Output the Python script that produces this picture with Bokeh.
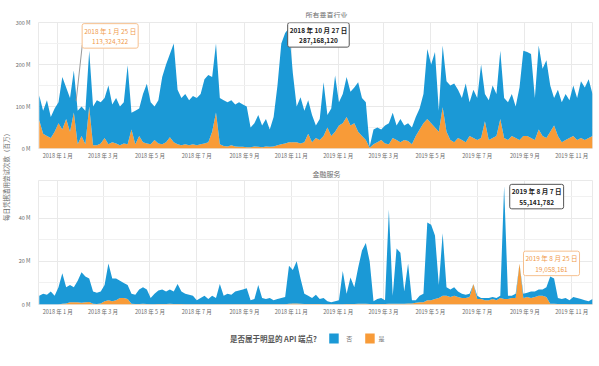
import math
import pandas as pd
from bokeh.plotting import figure
from bokeh.layouts import row, column
from bokeh.models import (ColumnDataSource, Range1d, FixedTicker, MonthsTicker,
                          CustomJSTickFormatter, Label)
from bokeh.core.properties import value
from bokeh.embed import file_html
from bokeh.resources import INLINE

# ---------------- data (millions per day, sampled every 5 days) ----------------
start_date = "2017-12-08"
n_points = 145

all_yes = [67, 35, 30, 25, 40, 60, 45, 70, 40, 86,
           10, 30, 10, 100, 8, 8, 12, 25, 10, 15,
           12, 8, 12, 10, 45, 10, 30, 15, 12, 10,
           20, 12, 10, 15, 27, 15, 10, 8, 10, 8,
           10, 8, 10, 12, 15, 40, 86, 10, 6, 5,
           8, 5, 4, 4, 3, 3, 5, 4, 3, 5,
           4, 5, 8, 10, 12, 15, 15, 15, 12, 15,
           35, 15, 25, 20, 30, 50, 30, 40, 55, 60,
           75, 55, 60, 40, 30, 20, 2, 10, 15, 20,
           12, 10, 25, 20, 15, 20, 18, 10, 30, 45,
           60, 70, 60, 50, 40, 98, 40, 20, 15, 25,
           20, 15, 30, 25, 20, 25, 65, 20, 25, 30,
           70, 25, 20, 30, 25, 20, 30, 30, 25, 20,
           45, 30, 25, 40, 55, 30, 15, 20, 25, 30,
           20, 25, 20, 25, 30]
all_no = [59, 55, 85, 50, 55, 50, 125, 75, 80, 100,
          80, 70, 80, 133, 92, 107, 98, 95, 140, 90,
          108, 92, 98, 188, 40, 80, 65, 115, 142, 100,
          80, 103, 160, 185, 198, 235, 130, 112, 120, 107,
          115, 112, 120, 153, 160, 130, 164, 110, 109, 105,
          107, 100, 106, 101, 97, 47, 55, 76, 52, 65,
          41, 70, 142, 240, 263, 272, 165, 85, 110, 75,
          80, 65, 30, 50, 128, 30, 65, 134, 55, 70,
          95, 80, 85, 118, 90, 90, 3, 35, 35, 25,
          43, 50, 60, 35, 55, 35, 42, 40, 45, 50,
          70, 167, 140, 180, 50, 147, 120, 130, 140, 115,
          100, 140, 80, 115, 100, 175, 65, 95, 125, 100,
          163, 95, 90, 100, 75, 125, 203, 200, 200, 100,
          200, 160, 185, 110, 65, 110, 95, 110, 90, 120,
          100, 135, 125, 140, 100]

fin_yes = [0, 0, 0, 0, 0, 0, 0.3, 0.5, 1, 1,
           1, 0.8, 1, 1.2, 0.3, 0.2, 0.5, 1.5, 2, 1.5,
           2, 3, 3, 2.5, 0.3, 0.2, 0.2, 0.3, 0.2, 0.1,
           0.1, 0.2, 0.2, 0.2, 0.3, 0.2, 0.2, 0.2, 0.1, 0.1,
           0.1, 0.1, 0.1, 0.1, 0.1, 0.1, 0.1, 0.1, 0.1, 0.1,
           0.1, 0.1, 0.1, 0.1, 0.1, 0.1, 0.1, 0.1, 0.1, 0.1,
           0.1, 0.1, 0.1, 0.1, 0.1, 0.3, 0.5, 0.5, 0.3, 0.2,
           0.2, 0.2, 0.2, 0.2, 0.1, 0.1, 0.1, 0.1, 0.1, 0.1,
           0.2, 0.2, 0.2, 0.3, 0.3, 0.3, 0.2, 0.1, 0.2, 0.2,
           0.2, 0.3, 0.3, 0.3, 0.4, 0.4, 0.5, 0.5, 0.8, 1,
           1, 2, 2, 2.5, 3, 4, 4, 3.5, 4, 3.5,
           3, 3, 3.5, 9.5, 2.5, 2.5, 2, 2, 2.5, 2,
           3, 2.5, 2.5, 3, 3, 19, 3, 3.5, 3, 3.5,
           4, 4, 3.5, 0.3, 0.3, 0.2, 0.2, 0.2, 0.1, 0.1,
           0.1, 0.1, 0.1, 0.1, 0.1]
fin_no = [4, 5, 4.5, 6, 4, 8, 14.2, 7.5, 8, 7,
          10, 14.2, 12, 10.8, 5.7, 5.3, 5.5, 7.5, 17, 10.5,
          10, 8, 7, 6.5, 4.7, 4.3, 6.8, 7.7, 6.8, 2.9,
          4.9, 6.3, 6.8, 5.8, 6.7, 5.8, 9.3, 5.8, 4.9, 4.4,
          3.9, 1.9, 2.9, 3.9, 2.4, 3.9, 2.9, 9.4, 3.9, 4.9,
          4.4, 5.9, 6.4, 6.9, 7.4, 1.9, 2.4, 8.9, 2.9, 2.4,
          2.9, 1.9, 2.4, 2.9, 3.4, 17.7, 15.5, 19.5, 11.7, 4.8,
          3.8, 2.8, 4.3, 2.3, 2.9, 1.4, 0.9, 1.4, 1.9, 15.4,
          4.8, 12.3, 7.8, 16.7, 24.7, 28.2, 19.8, 1.4, 2.3, 2.8,
          1.8, 43.7, 3.7, 25.7, 23.6, 5.6, 18.5, 1.5, 1.2, 3,
          4, 36, 35, 29.5, 6, 29, 4, 3.5, 4, 2.5,
          2, 1.5, 1.5, 0, 1.5, 0.5, 1, 1, 1, 1,
          1, 52.5, 1.5, 1, 2, 0, 2, 2, 3, 2.5,
          3, 3, 4.5, 12.7, 11.7, 2.8, 2.3, 2.8, 1.9, 3.4,
          2.9, 2.4, 1.9, 1.4, 2.4]

panel_titles = ["所有垂直行业", "金融服务"]
top_ticks = [0, 100, 200, 300]
top_minor = [50, 150, 250]
fin_ticks = [0, 20, 40]
fin_minor = [10, 30, 50]
legend_title = "是否属于明显的 API 端点?"
legend_labels = ["否", "是"]
y_title = "每日凭据滥用尝试次数（百万）"

annot_dates = ["2018-01-25", "2018-10-27", "2019-08-07", "2019-08-25"]
annot_values = [113324322, 287168120, 55141782, 19058161]

# ---------------- styling ----------------
BLUE = "#1b99d6"
ORANGE = "#f89b38"
FONT = "Noto Sans CJK SC"
GRID = "#e9e9e9"
TXT = "#6b6b6b"
MAIN_W = 585
YLAB_W = 11

dates = pd.date_range(start_date, periods=n_points, freq="5D")
x_range = Range1d(pd.Timestamp("2017-12-07"), pd.Timestamp("2019-11-28"))

month_fmt = CustomJSTickFormatter(code="""
const d = new Date(tick);
return d.getUTCFullYear() + " 年 " + (d.getUTCMonth() + 1) + " 月";
""")


def strip(w, h):
    s = figure(width=w, height=h, x_range=Range1d(0, w), y_range=Range1d(0, h),
               output_backend="svg", toolbar_location=None, min_border=0,
               outline_line_color=None, title=None,
               x_axis_location=None, y_axis_location=None)
    s.grid.visible = False
    return s


def title_strip(text, h, y):
    s = strip(MAIN_W, h)
    s.text(x=[304], y=[y], text=[text], text_align="center", text_baseline="middle",
           text_font=value(FONT), text_font_size="7px", text_color=TXT)
    return s


def make_panel(yes, no, ymax, ticks, minor, h, top_b, bot_b):
    src = ColumnDataSource(dict(date=dates, yes=yes, no=no))
    p = figure(x_axis_type="datetime", x_range=x_range, y_range=Range1d(0, ymax),
               width=MAIN_W, height=h, output_backend="svg", title=None,
               toolbar_location=None, min_border_left=27, min_border_right=4,
               min_border_top=top_b, min_border_bottom=bot_b,
               background_fill_color="white", border_fill_color="white")
    p.varea_stack(["yes", "no"], x="date", source=src, color=[ORANGE, BLUE])
    p.outline_line_color = GRID

    p.xaxis.ticker = MonthsTicker(months=[0, 2, 4, 6, 8, 10])
    p.xaxis.formatter = month_fmt
    p.yaxis.ticker = FixedTicker(ticks=ticks, minor_ticks=minor)
    p.yaxis.major_label_overrides = {t: f"{t} M" for t in ticks}
    for ax in (p.xaxis[0], p.yaxis[0]):
        ax.axis_line_color = None
        ax.major_tick_line_color = None
        ax.minor_tick_line_color = None
        ax.major_label_text_font = FONT
        ax.major_label_text_font_size = "5.5px"
        ax.major_label_text_color = TXT
    p.xaxis.major_label_standoff = -3
    p.yaxis.major_label_standoff = 2
    p.xgrid.grid_line_color = GRID
    p.ygrid.grid_line_color = GRID
    p.ygrid.minor_grid_line_color = "#f1f1f1"
    return p


t1 = title_strip(panel_titles[0], 18, 4)
top = make_panel(all_yes, all_no, 300, top_ticks, top_minor, 150, 4, 20)
t2 = title_strip(panel_titles[1], 10, 7)
bot = make_panel(fin_yes, fin_no, 57.5, fin_ticks, fin_minor, 146, 2, 20)


def annotate(p, d, v, is_orange, dx, dy):
    ts = pd.Timestamp(d)
    txt = f"{ts.year} 年 {ts.month} 月 {ts.day} 日\n{v:,}"
    lab = Label(x=ts, y=v / 1e6, x_offset=dx, y_offset=dy, text=txt,
                text_align="center", text_baseline="middle",
                text_font=FONT, text_font_size="6.5px", text_line_height=1.05,
                text_color="#f09a4c" if is_orange else "#222222",
                text_font_style="normal" if is_orange else "bold",
                background_fill_color="white",
                border_line_color="#f6c08f" if is_orange else "#555555",
                border_line_width=1, padding=2, border_radius=2)
    p.add_layout(lab)


# leader line for the first annotation
top.segment(x0=[pd.Timestamp(annot_dates[0])], y0=[annot_values[0] / 1e6],
            x1=[pd.Timestamp("2018-02-02")], y1=[247],
            line_color="#9a9a9a", line_width=1)
annotate(top, annot_dates[0], annot_values[0], True, 34, 65)
annotate(top, annot_dates[1], annot_values[1], False, 31, -7)
annotate(bot, annot_dates[2], annot_values[2], False, 31, -11)
annotate(bot, annot_dates[3], annot_values[3], True, 32, 0)

# ---------------- legend strip ----------------
leg = strip(MAIN_W, 30)
leg.text(x=[294], y=[16], text=[legend_title], text_align="right", text_baseline="middle",
         text_font=value(FONT), text_font_size="7.5px", text_color="#555555",
         text_font_style="bold")
leg.rect(x=[312, 350], y=[16, 16], width=10, height=10, fill_color=[BLUE, ORANGE],
         line_color=None)
leg.text(x=[325, 359], y=[16, 16], text=legend_labels, text_align="left",
         text_baseline="middle", text_font=value(FONT), text_font_size="6px",
         text_color="#777777")

# ---------------- y axis title strip ----------------
ylab = strip(YLAB_W, 354)
ylab.text(x=[5], y=[179], text=[y_title], angle=math.pi / 2, text_align="center",
          text_baseline="middle", text_font=value(FONT), text_font_size="6.5px",
          text_color=TXT)

layout = row(ylab, column(t1, top, t2, bot, leg))
open("out.html", "w").write(file_html(layout, INLINE))
